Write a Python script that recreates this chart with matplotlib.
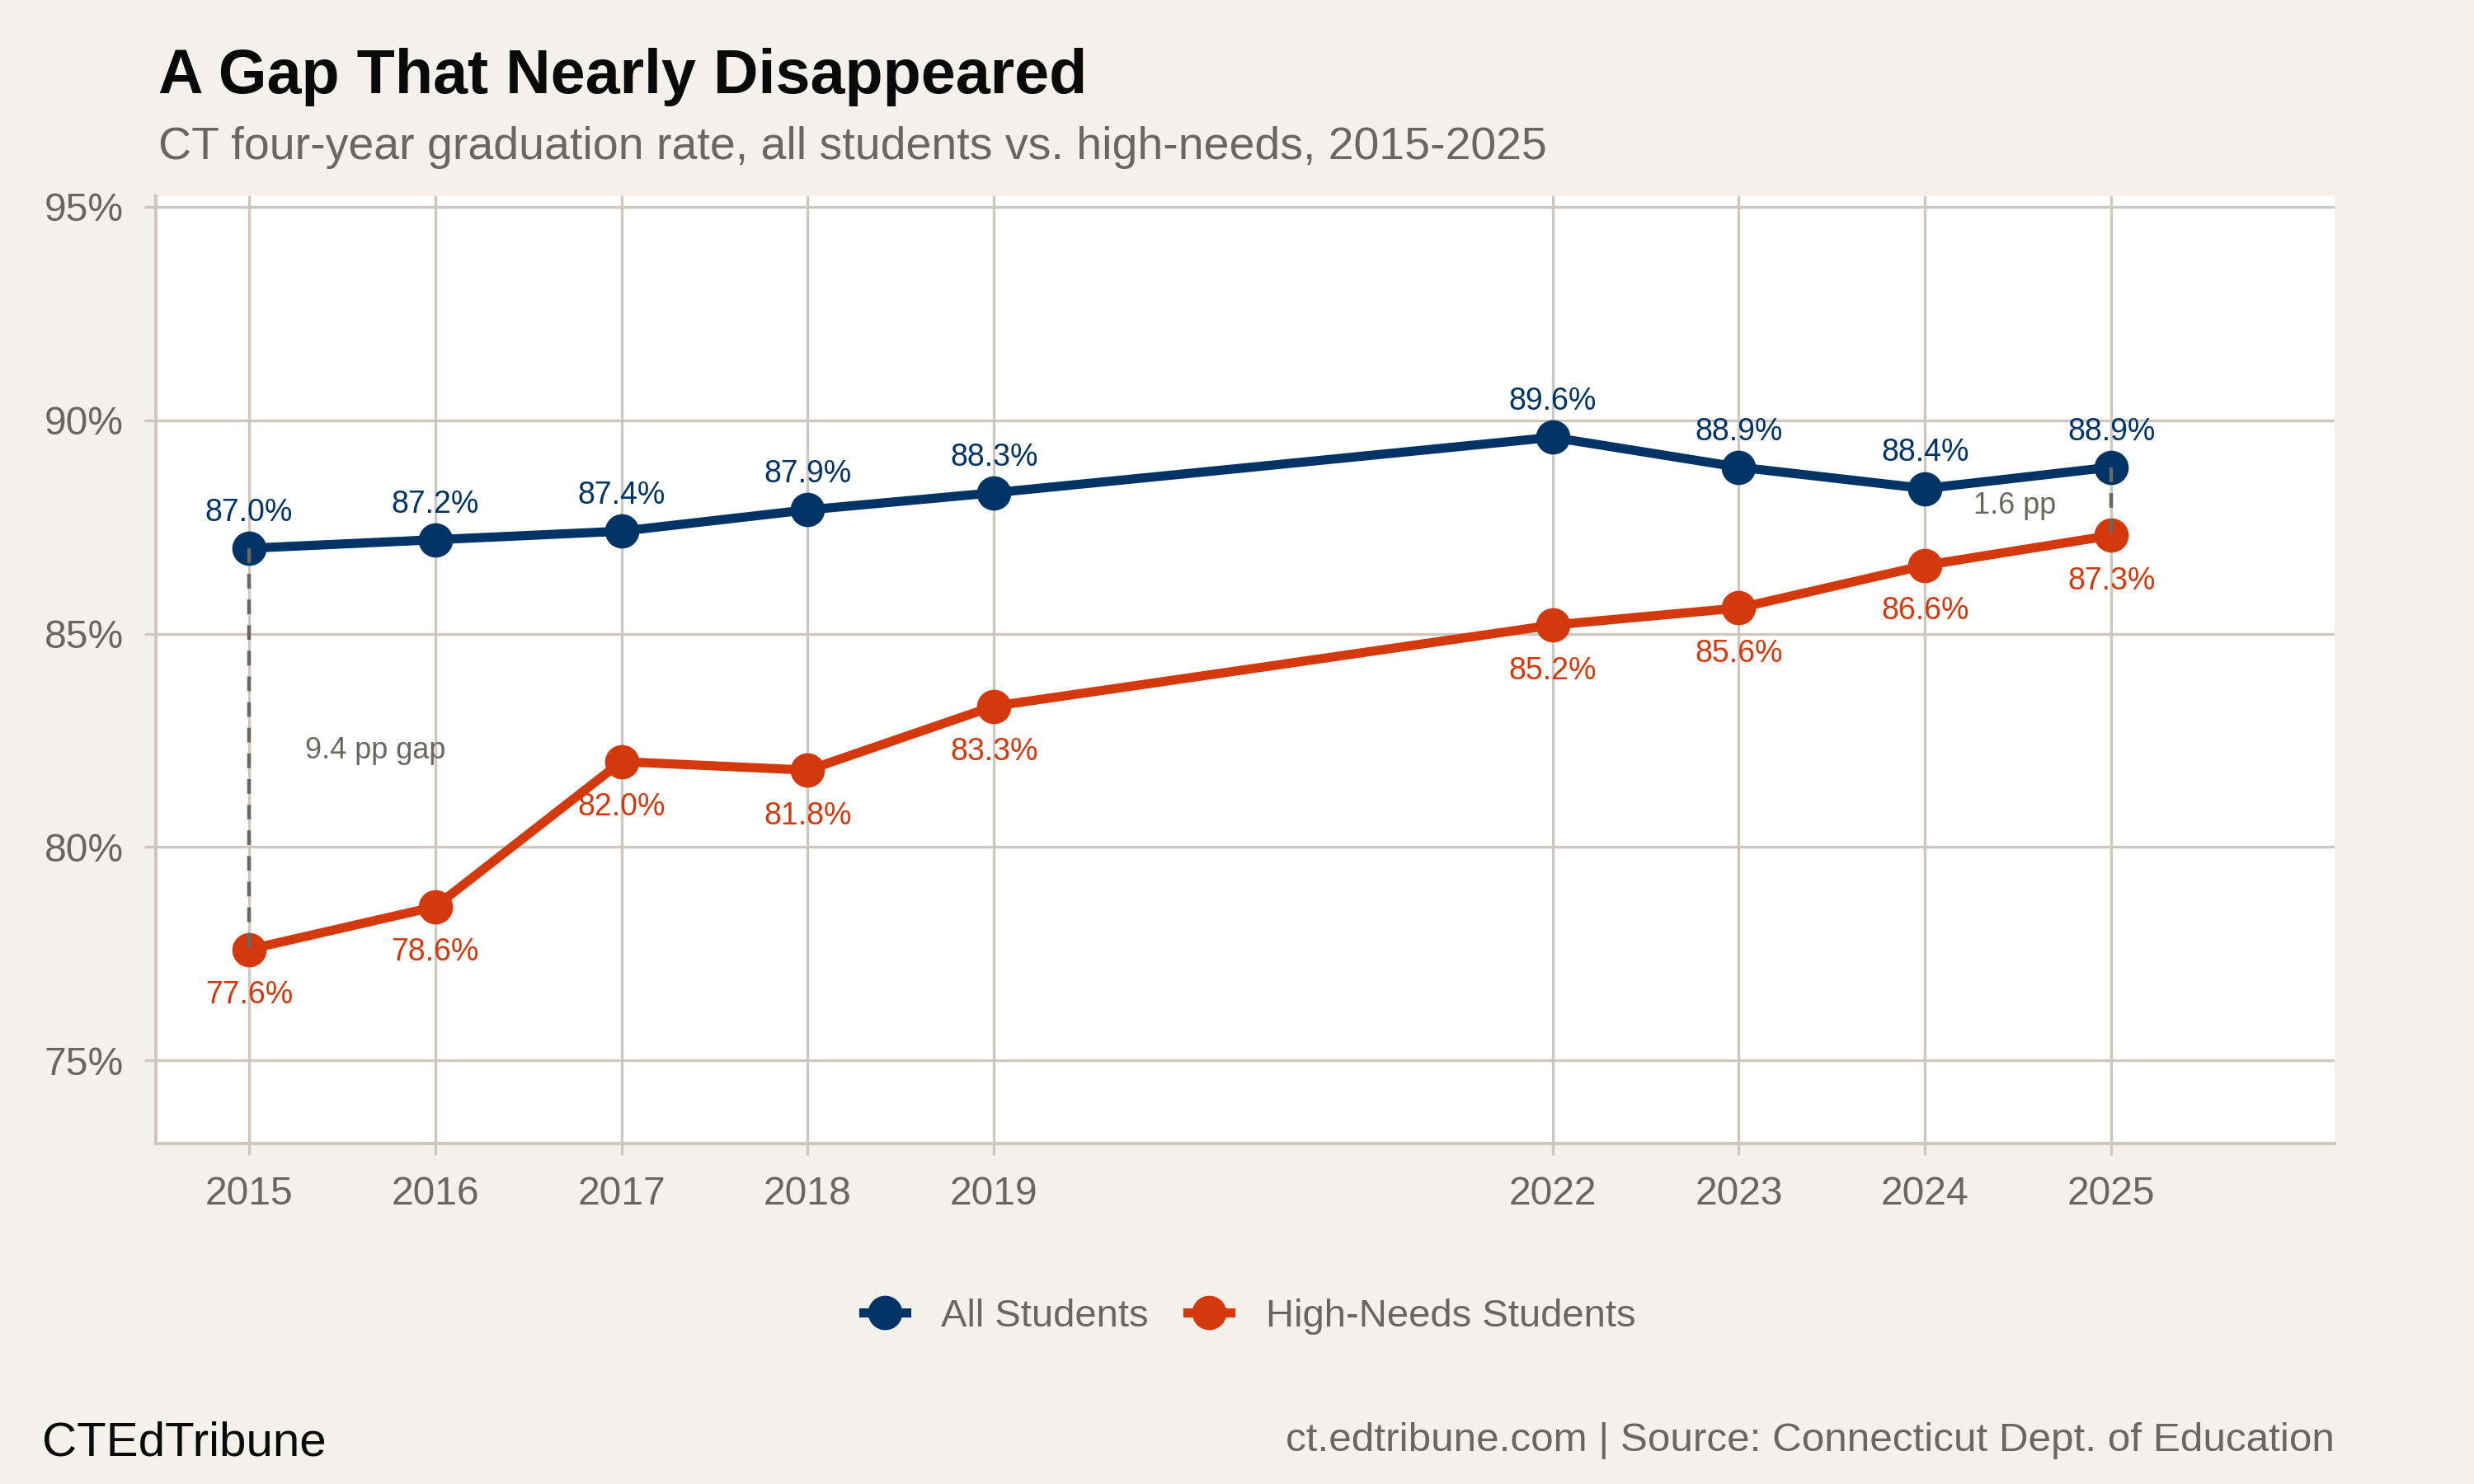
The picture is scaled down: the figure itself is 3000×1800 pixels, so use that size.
import matplotlib
matplotlib.use("Agg")
import matplotlib.pyplot as plt
from matplotlib.lines import Line2D

# data
years = [2015, 2016, 2017, 2018, 2019, 2022, 2023, 2024, 2025]
all_students = [87.0, 87.2, 87.4, 87.9, 88.3, 89.6, 88.9, 88.4, 88.9]
high_needs = [77.6, 78.6, 82.0, 81.8, 83.3, 85.2, 85.6, 86.6, 87.3]
y_ticks = [75, 80, 85, 90, 95]

NAVY = "#003366"
ORANGE = "#d4380d"
GREY = "#6b6760"
GRID = "#cdc7bf"
BG = "#f4f1ec"

plt.rcParams["font.family"] = ["Liberation Sans", "DejaVu Sans"]

fig = plt.figure(figsize=(15, 9), dpi=200, facecolor=BG)
ax = fig.add_axes([0.063, 0.2294, 0.8807, 0.6384])
ax.set_facecolor("white")

ax.plot(years, all_students, color=NAVY, lw=4, marker="o", ms=14, zorder=3)
ax.plot(years, high_needs, color=ORANGE, lw=4, marker="o", ms=14, zorder=3)

for x, y in zip(years, all_students):
    ax.annotate(f"{y:.1f}%", (x, y), xytext=(0, 15.5), textcoords="offset points",
                ha="center", va="center", fontsize=13.5, color=NAVY, zorder=5)
for x, y in zip(years, high_needs):
    ax.annotate(f"{y:.1f}%", (x, y), xytext=(0, -20), textcoords="offset points",
                ha="center", va="center", fontsize=13.5, color=ORANGE, zorder=5)

# gap connectors
ax.plot([years[0], years[0]], [all_students[0], high_needs[0]], color=GREY,
        lw=1.6, ls=(0, (4, 3)), zorder=4)
ax.plot([years[-1], years[-1]], [all_students[-1], high_needs[-1]], color=GREY,
        lw=1.6, ls=(0, (4, 3)), zorder=4)
gap_first = all_students[0] - high_needs[0]
gap_last = all_students[-1] - high_needs[-1]
ax.text(2015.3, 82.25, f"{gap_first:.1f} pp gap", fontsize=13, color=GREY,
        ha="left", va="center")
ax.text(2024.48, 88.0, f"{gap_last:.1f} pp", fontsize=13, color=GREY,
        ha="center", va="center")

ax.set_xlim(2014.5, 2026.2)
ax.set_ylim(73.05, 95.25)
ax.set_xticks(years)
ax.set_xticklabels([str(y) for y in years])
ax.set_yticks(y_ticks)
ax.set_yticklabels([f"{t}%" for t in y_ticks])
ax.grid(True, color=GRID, lw=1.2)
ax.set_axisbelow(True)
for s in ["top", "right"]:
    ax.spines[s].set_visible(False)
for s in ["left", "bottom"]:
    ax.spines[s].set_color(GRID)
    ax.spines[s].set_linewidth(1.5)
ax.tick_params(colors=GRID, length=5, width=1.2, labelcolor=GREY,
               labelsize=17.3, pad=9)

fig.text(0.064, 0.937, "A Gap That Nearly Disappeared", fontsize=27.2,
         fontweight="bold", color="#0a0a0a", ha="left", va="baseline")
fig.text(0.064, 0.893,
         "CT four-year graduation rate, all students vs. high-needs, 2015-2025",
         fontsize=20, color=GREY, ha="left", va="baseline")

handles = [Line2D([], [], color=NAVY, lw=4, marker="o", ms=14),
           Line2D([], [], color=ORANGE, lw=4, marker="o", ms=14)]
fig.legend(handles, ["All Students", "High-Needs Students"], loc="center",
           bbox_to_anchor=(0.505, 0.1128), ncol=2, frameon=False,
           fontsize=17, labelcolor=GREY, handlelength=1.1,
           columnspacing=1.0, handletextpad=0.9)

fig.text(0.017, 0.019, "CTEdTribune", fontsize=21, color="#0a0a0a",
         ha="left", va="baseline")
fig.text(0.9437, 0.022,
         "ct.edtribune.com | Source: Connecticut Dept. of Education",
         fontsize=17.8, color=GREY, ha="right", va="baseline")

fig.savefig("out.png", dpi=200, facecolor=BG)
plt.close(fig)
